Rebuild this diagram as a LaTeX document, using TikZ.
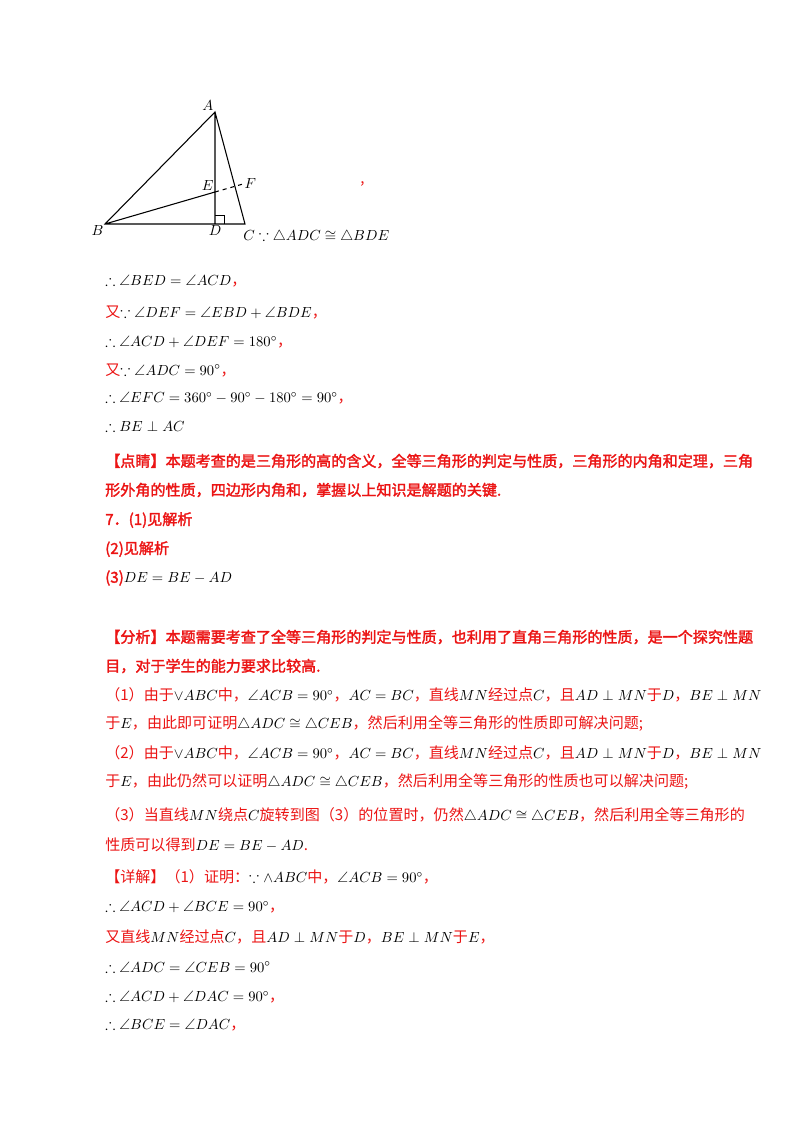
\documentclass[tikz,border=0pt]{standalone}
\usepackage{amsmath,amssymb}
\usepackage{fontspec}
\newfontfamily\cjk{Noto Sans CJK SC}
\newfontfamily\cjkb{Noto Sans CJK SC}[FakeBold=2]
\definecolor{rd}{RGB}{235,20,20}
\newcommand{\R}[1]{\textcolor{rd}{\cjk #1}}
\newcommand{\RB}[1]{\textcolor{rd}{\cjkb #1}}
\begin{document}
\begin{tikzpicture}[x=0.75pt,y=-0.75pt,
  ln/.style={anchor=west,inner sep=0pt,font=\fontsize{11.3}{13}\selectfont},
  pt/.style={inner sep=1pt,font=\itshape\fontsize{11}{13}\selectfont}]
\useasboundingbox (0,0) rectangle (800,1132);
\coordinate (A) at (215,112); \coordinate (B) at (105,224);
\coordinate (D) at (215,224); \coordinate (C) at (245,224);
\coordinate (E) at (215,192); \coordinate (F) at (243,184);
\draw[line width=0.8pt] (A)--(B)--(C)--cycle (A)--(D) (B)--(E);
\draw[line width=0.8pt,dashed] (E)--(F);
\draw[line width=0.6pt] (215,215)--(224,215)--(224,224);
\node[pt,above left] at (A) {$A$};
\node[pt,below left] at (B) {$B$};
\node[pt,below] at (D) {$D$};
\node[pt,above left] at (E) {$E$};
\node[pt,right] at (F) {$F$};
\node[ln] at (243,237) {$C\because\triangle ADC\cong\triangle BDE$};
\node[ln] at (360,184) {\R{,}};
\node[ln] at (105,281) {$\therefore\angle BED=\angle ACD$\R{，}};
\node[ln] at (105,312) {\R{又}$\because\angle DEF=\angle EBD+\angle BDE$\R{，}};
\node[ln] at (105,342) {$\therefore\angle ACD+\angle DEF=180^\circ$\R{，}};
\node[ln] at (105,370) {\R{又}$\because\angle ADC=90^\circ$\R{，}};
\node[ln] at (105,398) {$\therefore\angle EFC=360^\circ-90^\circ-180^\circ=90^\circ$\R{，}};
\node[ln] at (105,426) {$\therefore BE\perp AC$};
\node[ln] at (105,461) {\RB{【点睛】本题考查的是三角形的高的含义，全等三角形的判定与性质，三角形的内角和定理，三角}};
\node[ln] at (105,490) {\RB{形外角的性质，四边形内角和，掌握以上知识是解题的关键.}};
\node[ln] at (105,520) {\RB{7．(1)见解析}};
\node[ln] at (105,549) {\RB{(2)见解析}};
\node[ln] at (105,578) {\RB{(3)}$DE=BE-AD$};
\node[ln] at (105,637) {\RB{【分析】本题需要考查了全等三角形的判定与性质，也利用了直角三角形的性质，是一个探究性题}};
\node[ln] at (105,666) {\RB{目，对于学生的能力要求比较高.}};
\node[ln] at (105,695) {\R{（1）由于}$\vee ABC$\R{中，}$\angle ACB=90^\circ$\R{，}$AC=BC$\R{，直线}$MN$\R{经过点}$C$\R{，且}$AD\perp MN$\R{于}$D$\R{，}$BE\perp MN$};
\node[ln] at (105,724) {\R{于}$E$\R{，由此即可证明}$\triangle ADC\cong\triangle CEB$\R{，然后利用全等三角形的性质即可解决问题;}};
\node[ln] at (105,753) {\R{（2）由于}$\vee ABC$\R{中，}$\angle ACB=90^\circ$\R{，}$AC=BC$\R{，直线}$MN$\R{经过点}$C$\R{，且}$AD\perp MN$\R{于}$D$\R{，}$BE\perp MN$};
\node[ln] at (105,782) {\R{于}$E$\R{，由此仍然可以证明}$\triangle ADC\cong\triangle CEB$\R{，然后利用全等三角形的性质也可以解决问题;}};
\node[ln] at (105,815) {\R{（3）当直线}$MN$\R{绕点}$C$\R{旋转到图（3）的位置时，仍然}$\triangle ADC\cong\triangle CEB$\R{，然后利用全等三角形的}};
\node[ln] at (105,845) {\R{性质可以得到}$DE=BE-AD$\R{.}};
\node[ln] at (105,877) {\R{【详解】（1）证明：}$\because\wedge ABC$\R{中，}$\angle ACB=90^\circ$\R{，}};
\node[ln] at (105,907) {$\therefore\angle ACD+\angle BCE=90^\circ$\R{，}};
\node[ln] at (105,937) {\R{又直线}$MN$\R{经过点}$C$\R{，且}$AD\perp MN$\R{于}$D$\R{，}$BE\perp MN$\R{于}$E$\R{，}};
\node[ln] at (105,967) {$\therefore\angle ADC=\angle CEB=90^\circ$};
\node[ln] at (105,997) {$\therefore\angle ACD+\angle DAC=90^\circ$\R{，}};
\node[ln] at (105,1025) {$\therefore\angle BCE=\angle DAC$\R{，}};
\end{tikzpicture}
\end{document}
